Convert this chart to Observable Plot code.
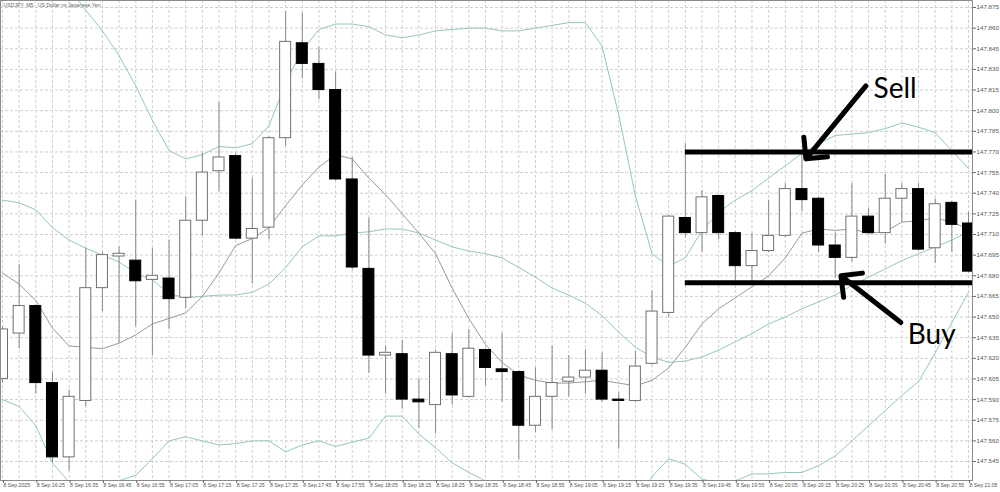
<!DOCTYPE html>
<html><head><meta charset="utf-8">
<script src="https://cdn.jsdelivr.net/npm/d3@7"></script>
<script src="https://cdn.jsdelivr.net/npm/@observablehq/plot@0.6"></script>
<style>body{margin:0;background:#fff;overflow:hidden}</style>
</head><body><div id="chart"></div>
<script>
const title = "USDJPY, M5:  US Dollar vs Japanese Yen";
const dayLabel = "8 Sep";
const firstLabel = "8 Sep 2025";
const times = ["16:15","16:20","16:25","16:30","16:35","16:40","16:45","16:50","16:55","17:00","17:05","17:10","17:15","17:20","17:25","17:30","17:35","17:40","17:45","17:50","17:55","18:00","18:05","18:10","18:15","18:20","18:25","18:30","18:35","18:40","18:45","18:50","18:55","19:00","19:05","19:10","19:15","19:20","19:25","19:30","19:35","19:40","19:45","19:50","19:55","20:00","20:05","20:10","20:15","20:20","20:25","20:30","20:35","20:40","20:45","20:50","20:55","21:00","21:05"];
const open = [147.605,147.638,147.658,147.602,147.548,147.589,147.671,147.694,147.691,147.677,
147.678,147.664,147.720,147.756,147.767,147.707,147.715,147.780,147.849,147.834,
147.815,147.750,147.685,147.622,147.623,147.590,147.586,147.623,147.592,147.626,
147.612,147.610,147.571,147.592,147.603,147.606,147.611,147.590,147.589,147.616,
147.653,147.722,147.711,147.738,147.711,147.687,147.698,147.709,147.743,147.736,
147.702,147.693,147.723,147.711,147.736,147.743,147.700,147.733,147.718];
const high = [147.643,147.688,147.659,147.610,147.597,147.700,147.697,147.701,147.735,147.700,
147.706,147.737,147.769,147.806,147.769,147.751,147.781,147.872,147.871,147.846,
147.828,147.766,147.722,147.629,147.633,147.605,147.626,147.638,147.641,147.627,
147.638,147.611,147.613,147.629,147.622,147.626,147.624,147.595,147.625,147.669,
147.724,147.776,147.742,147.739,147.712,147.711,147.735,147.747,147.769,147.737,
147.711,147.747,147.729,147.754,147.747,147.747,147.736,147.734,147.726];
const low = [147.602,147.627,147.594,147.544,147.538,147.585,147.654,147.631,147.643,147.622,
147.641,147.656,147.709,147.741,147.706,147.674,147.706,147.774,147.823,147.808,
147.749,147.684,147.609,147.594,147.583,147.569,147.565,147.586,147.591,147.600,
147.588,147.546,147.566,147.568,147.592,147.594,147.588,147.554,147.588,147.615,
147.650,147.708,147.697,147.706,147.675,147.674,147.697,147.708,147.727,147.697,
147.678,147.690,147.710,147.703,147.719,147.698,147.689,147.697,147.682];
const close = [147.641,147.658,147.602,147.548,147.592,147.671,147.695,147.696,147.676,147.680,
147.663,147.720,147.755,147.766,147.707,147.714,147.780,147.850,147.834,147.815,
147.750,147.686,147.622,147.624,147.590,147.588,147.624,147.593,147.627,147.613,
147.610,147.571,147.592,147.602,147.606,147.611,147.590,147.589,147.614,147.654,
147.723,147.711,147.737,147.711,147.687,147.698,147.709,147.743,147.735,147.702,
147.693,147.723,147.711,147.736,147.743,147.699,147.732,147.717,147.683];
const bbUpper = [147.917,147.909,147.902,147.896,147.889,147.873,147.858,147.840,147.818,147.793,
147.771,147.765,147.768,147.774,147.773,147.776,147.789,147.820,147.844,147.859,
147.863,147.863,147.861,147.855,147.853,147.855,147.858,147.859,147.860,147.860,
147.858,147.858,147.860,147.862,147.864,147.864,147.847,147.797,147.738,147.696,
147.687,147.693,147.713,147.726,147.735,147.742,147.751,147.760,147.769,147.776,
147.782,147.783,147.784,147.787,147.791,147.788,147.784,147.771,147.758];
const bbMiddle = [147.735,147.733,147.728,147.715,147.706,147.700,147.695,147.690,147.682,147.677,
147.667,147.664,147.665,147.666,147.666,147.668,147.674,147.686,147.701,147.709,
147.709,147.711,147.712,147.714,147.714,147.711,147.706,147.701,147.698,147.696,
147.693,147.686,147.679,147.671,147.666,147.660,147.651,147.639,147.628,147.621,
147.617,147.618,147.621,147.626,147.632,147.638,147.645,147.650,147.656,147.661,
147.666,147.673,147.679,147.685,147.691,147.696,147.701,147.706,147.712];
const bbLower = [147.590,147.585,147.571,147.544,147.530,147.523,147.525,147.531,147.535,147.547,
147.560,147.563,147.560,147.557,147.558,147.560,147.560,147.552,147.557,147.560,
147.556,147.559,147.562,147.578,147.578,147.565,147.555,147.544,147.537,147.531,
147.524,147.514,147.502,147.488,147.473,147.462,147.462,147.480,147.513,147.534,
147.547,147.543,147.532,147.530,147.531,147.536,147.536,147.537,147.537,147.542,
147.549,147.560,147.571,147.582,147.593,147.603,147.624,147.646,147.668];
const maLine = [147.682,147.674,147.662,147.642,147.629,147.628,147.627,147.631,147.637,147.645,
147.649,147.653,147.665,147.682,147.702,147.707,147.715,147.731,147.746,147.759,
147.768,147.765,147.751,147.739,147.725,147.711,147.696,147.671,147.649,147.630,
147.617,147.608,147.604,147.602,147.602,147.603,147.604,147.602,147.600,147.604,
147.613,147.628,147.645,147.656,147.664,147.672,147.680,147.693,147.711,147.714,
147.713,147.714,147.711,147.712,147.719,147.720,147.722,147.719,147.714];
const priceTicks = [147.545,147.560,147.575,147.590,147.605,147.620,147.635,147.650,147.665,147.680,147.695,147.710,147.725,147.740,147.755,147.770,147.785,147.800,147.815,147.830,147.845,147.860,147.875];
const levelNames = ["Sell","Buy"];
const levelPrices = [147.770,147.675];
const levelStart = "19:40";
const arrowFrom = [[51.84,147.818],[53.94,147.646]];
const arrowTo = [[48.24,147.765],[50.34,147.680]];
const noteAt = [[52.3,147.816],[54.35,147.637]];

const candles = times.map((t,i)=>({i,t,o:open[i],h:high[i],l:low[i],c:close[i]}));
const series = (arr)=>arr.map((v,i)=>({i,v}));
const startIdx = times.indexOf(levelStart);
const levels = levelNames.map((n,k)=>({name:n,price:levelPrices[k],from:startIdx,to:times.length-0.5}));
const arrows = levelNames.map((n,k)=>({name:n,x1:arrowFrom[k][0],y1:arrowFrom[k][1],x2:arrowTo[k][0],y2:arrowTo[k][1]}));
const notes = levelNames.map((n,k)=>({name:n,x:noteAt[k][0],y:noteAt[k][1]}));
const labelTicks = times.map((t,i)=>i).filter(i=>i%2===0);
const teal = "#95c8b6";

const chart = Plot.plot({
  width: 1000, height: 492,
  marginLeft: 0, marginRight: 28, marginTop: 0, marginBottom: 12,
  style: {fontFamily: "Liberation Sans, DejaVu Sans, sans-serif", fontSize: "6px", background: "#fff", color: "#555", overflow: "visible"},
  x: {type: "linear", domain: [0, times.length-1], range: [2, 968]},
  y: {domain: [147.545, 147.875], range: [461, 7]},
  marks: [
    Plot.ruleX(candles, {x: "i", stroke: "#cfcfcf", strokeDasharray: "3,2"}),
    Plot.ruleY(priceTicks, {stroke: "#cfcfcf", strokeDasharray: "3,2"}),
    Plot.text([title], {frameAnchor: "top-left", dx: 3, dy: 3, lineAnchor: "top", textAnchor: "start", fill: "#666", fontSize: 5.2}),
    Plot.line(series(bbUpper), {x: "i", y: "v", stroke: teal, strokeWidth: 1, clip: true}),
    Plot.line(series(bbMiddle), {x: "i", y: "v", stroke: teal, strokeWidth: 1, clip: true}),
    Plot.line(series(bbLower), {x: "i", y: "v", stroke: teal, strokeWidth: 1, clip: true}),
    Plot.line(series(maLine), {x: "i", y: "v", stroke: "#9a9a9a", strokeWidth: 1, clip: true}),
    Plot.ruleX(candles, {x: "i", y1: "l", y2: "h", stroke: "#8a8a8a", strokeWidth: 1}),
    Plot.rect(candles, {x1: d=>d.i-0.33, x2: d=>d.i+0.33, y1: "o", y2: "c",
      fill: d=>d.c>=d.o ? "#ffffff" : "#000000", stroke: d=>d.c>=d.o ? "#707070" : "#000000", strokeWidth: 1, clip: true}),
    Plot.ruleY(levels, {y: "price", x1: "from", x2: "to", stroke: "#000", strokeWidth: 5, clip: true}),
    Plot.arrow(arrows, {x1: "x1", y1: "y1", x2: "x2", y2: "y2", stroke: "#000", strokeWidth: 5, headAngle: 90, headLength: 6.5}),
    Plot.text(notes, {x: "x", y: "y", text: "name", textAnchor: "start", fontFamily: "Lato", fontSize: 28, fill: "#000"}),
    Plot.frame({stroke: "#8c8c8c"}),
    Plot.axisY({anchor: "right", ticks: priceTicks, tickFormat: d3.format(".3f"), tickSize: 3, tickPadding: 1, fontSize: 6.2, stroke: "#666", fill: "#555"}),
    Plot.axisX({ticks: labelTicks, tickFormat: i => i===0 ? firstLabel : dayLabel + " " + times[i], textAnchor: "start", tickSize: 3, tickPadding: 0, dx: 1, fontSize: 5.2, stroke: "#666", fill: "#555"})
  ]
});
document.getElementById("chart").appendChild(chart);
</script>
</body></html>
